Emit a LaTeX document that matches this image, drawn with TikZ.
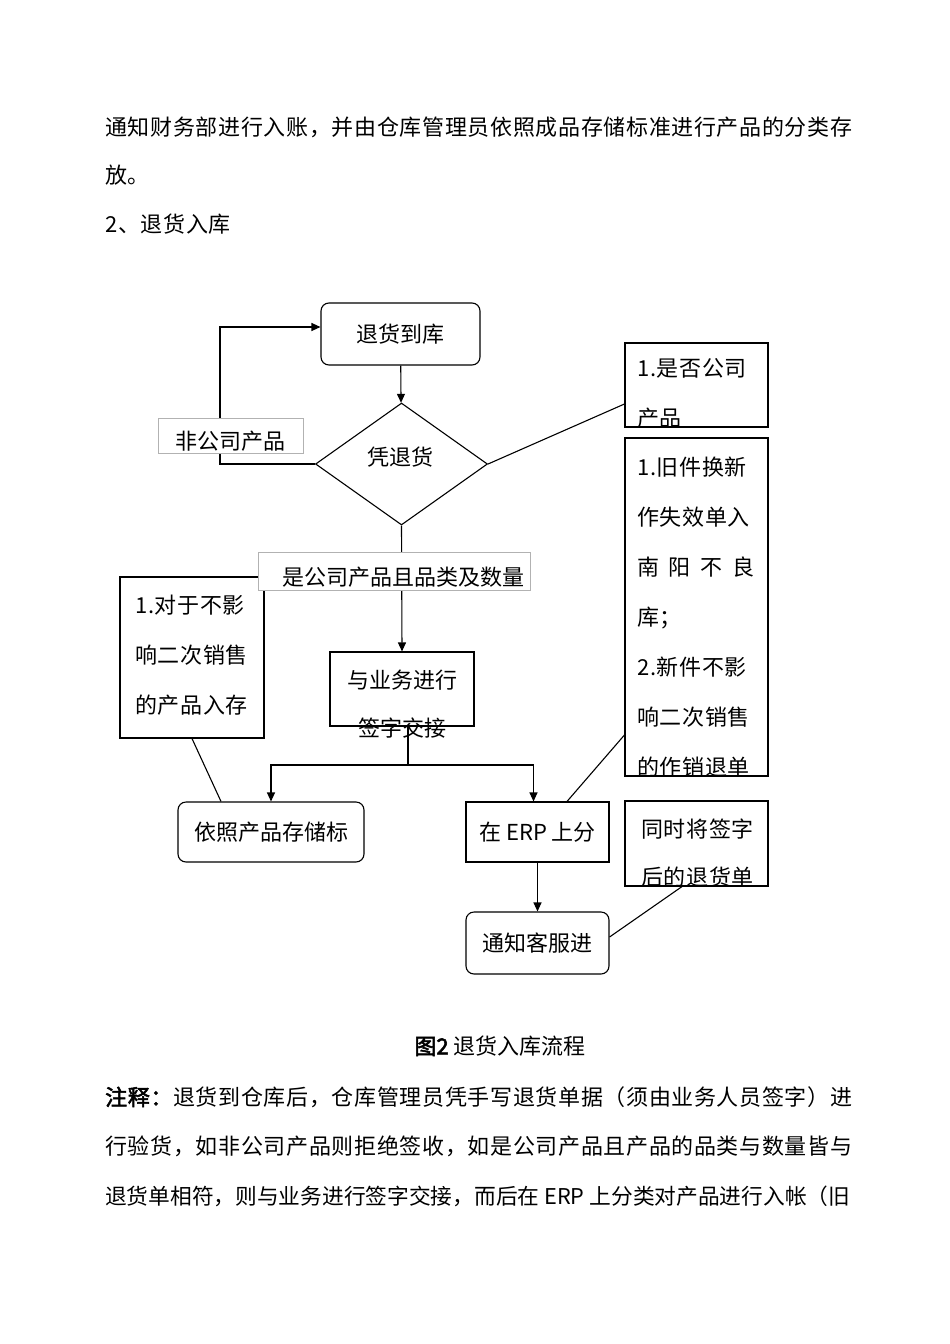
\documentclass[tikz,border=0pt]{standalone}
\usepackage{fontspec}
\usepackage{graphicx}
\setmainfont{Noto Sans CJK SC}[LetterSpace=3.0,AutoFakeBold=2.5]
\newfontfamily\boxfont{Noto Sans CJK SC}[AutoFakeBold=2.5]
\usetikzlibrary{shapes.geometric,arrows.meta}

\newcommand{\boxsize}{\boxfont\fontsize{22}{50}\selectfont}
\newcommand{\firstline}{\rule{0pt}{0.88em}}

\tikzset{
	txt/.style={inner sep=0, text height=19.36pt, text depth=2.64pt},
	lines/.style={inner sep=0, align=left},
	link/.style={line width=1.1pt},
	pill/.style={draw, line width=1.1pt, rounded corners=8pt, inner sep=0, txt, font=\boxsize},
	plainbox/.style={draw, line width=1.1pt, inner sep=0, txt, font=\boxsize},
	note/.style={draw, line width=1.1pt, inner sep=0},
	tag/.style={draw=black!30, line width=1pt, fill=white, inner sep=0},
	decide/.style={diamond, draw, line width=1.1pt, inner sep=0, minimum width=172pt, minimum height=122pt}
}

\begin{document}
\begin{tikzpicture}[x=1pt, y=-1pt, font=\fontsize{22}{50}\selectfont, >={Triangle[length=9pt,width=8pt]}]

		\path[fill=white] (0,0) rectangle (950,1344);
		\useasboundingbox (0,0) rectangle (950,1344);

		% text above the chart
		\node[txt, anchor=west] (para1) at (105,127) {通知财务部进行入账，并由仓库管理员依照成品存储标准进行产品的分类存};
		\node[txt, anchor=west] (para2) at (105,175) {放。};
		\node[txt, anchor=west] (head) at (105,224) {2、退货入库};

		% flow boxes
		\node[pill, minimum width=159pt, minimum height=62pt] (arrive) at (400.5,334) {退货到库};
		\node[decide] (cond) at (401.5,464) {};
		\node[txt, font=\boxsize] (condtxt) at (400,457) {凭退货};
		\node[note, minimum width=144pt, minimum height=74pt] (sign) at (402,689) {};
		\node[pill, minimum width=186pt, minimum height=60pt] (store) at (271,832) {依照产品存储标};
		\node[plainbox, minimum width=143pt, minimum height=60pt] (erp) at (537.5,832) {在 ERP 上分};
		\node[pill, minimum width=143pt, minimum height=62pt] (notify) at (537.5,943) {通知客服进};
		\node[lines, anchor=north, align=center, font=\boxsize] (signtxt) at (402,669) {\firstline 与业务进行\\[-2pt]签字交接};

		% side notes
		\node[note, minimum width=143pt, minimum height=84pt] (q1) at (696.5,385) {};
		\node[note, minimum width=143pt, minimum height=338pt] (q2) at (696.5,607) {};
		\node[note, minimum width=143pt, minimum height=85pt] (q3) at (696.5,843.5) {};
		\node[note, minimum width=144pt, minimum height=161pt] (q4) at (192,657.5) {};

		\begin{scope}
			\clip (q1.south west) rectangle (q1.north east);
			\node[lines, anchor=north west] (q1txt) at (637,357) {\firstline 1.是否公司\\产品};
		\end{scope}
		\begin{scope}
			\clip (q2.south west) rectangle (q2.north east);
			\node[lines, anchor=north west] (q2txt) at (637,456) {\firstline 1.旧件换新\\作失效单入\\\makebox[117pt][l]{南\hfill 阳\hfill 不\hfill 良}\\库；\\2.新件不影\\响二次销售\\的作销退单};
		\end{scope}
		\begin{scope}
			\clip (q3.south west) rectangle (q3.north east);
			\node[lines, anchor=north west] (q3txt) at (641,818) {\firstline 同时将签字\\[-2pt]后的退货单};
		\end{scope}
		\node[lines, anchor=north west] (q4txt) at (135,594) {\firstline 1.对于不影\\响二次销售\\的产品入存};

		% connectors
		\coordinate (loop) at (220,327);
		\coordinate (split) at (408,765);
		\draw[link] (arrive) -- (cond)[->];
		\draw[link] (cond.west) -| (loop) -- (loop -| arrive.west)[->];
		\draw[link] (cond.east) -- ([yshift=-19pt]q1.west);
		\draw[link] (cond.south) -- (sign.north)[->];
		\draw[link] (split |- sign.south) -- (split);
		\draw[link] (split) -| (store.north)[->];
		\draw[link] (split) -| ([xshift=-4pt]erp.north)[->];
		\draw[link] (q4.south) -- ([xshift=-50pt]store.north);
		\draw[link] ([yshift=-128pt]q2.west) -- ([xshift=29.5pt]erp.north);
		\draw[link] (erp) -- (notify)[->];
		\draw[link] ([xshift=-14.5pt]q3.south) -- ([yshift=6pt]notify.east);

		% branch labels
		\node[tag, minimum width=145pt, minimum height=35pt] (notag) at (230.5,435.5) {};
		\node[txt, font=\boxsize] (notagtxt) at (230,441) {非公司产品};
		\node[tag, minimum width=272pt, minimum height=38pt] (yestag) at (394,571) {};
		\node[txt, font=\boxsize] (yestagtxt) at (403,577) {是公司产品且品类及数量};

		% caption and notes
		\node[txt, font=\boxsize] (caption) at (500,1046) {\textbf{图2} 退货入库流程};
		\node[txt, anchor=west] (note1) at (105,1097) {\textbf{注释：}退货到仓库后，仓库管理员凭手写退货单据（须由业务人员签字）进};
		\node[txt, anchor=west] (note2) at (105,1146) {行验货，如非公司产品则拒绝签收，如是公司产品且产品的品类与数量皆与};
		\node[txt, anchor=west, font=\boxsize] (note3) at (105,1196) {\resizebox{745pt}{!}{退货单相符，则与业务进行签字交接，而后在 ERP 上分类对产品进行入帐（旧}};

\end{tikzpicture}
\end{document}
